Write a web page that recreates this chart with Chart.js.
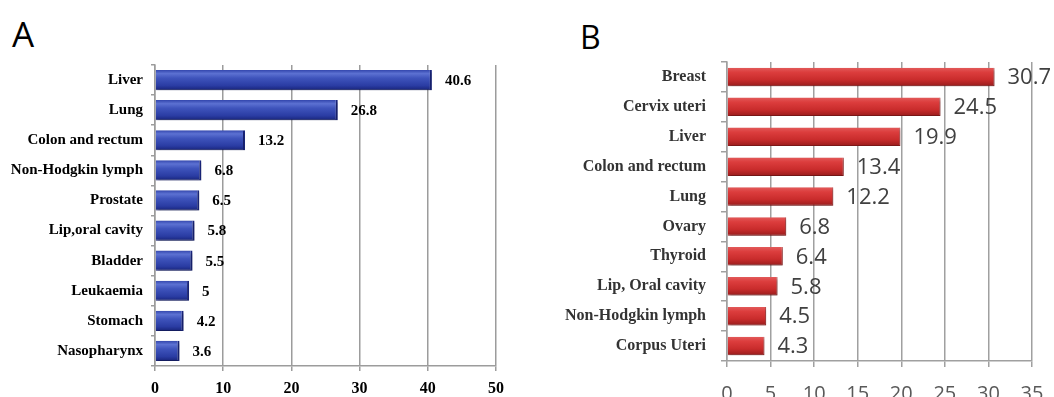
<!DOCTYPE html>
<html>
<head>
<meta charset="utf-8">
<script src="https://cdn.jsdelivr.net/npm/chart.js@4/dist/chart.umd.min.js"></script>
<style>
  html, body { margin: 0; padding: 0; background: #fff; width: 1054px; height: 397px; overflow: hidden; }
  .panel { position: absolute; top: 0; }
  .letter { position: absolute; font-family: "Open Sans", sans-serif; line-height: 1; color: #000; }
</style>
</head>
<body>
<div class="letter" style="left:12px; top:16px; font-size:35px;">A</div>
<div class="letter" style="left:580px; top:21px; font-size:32px;">B</div>
<div class="panel" style="left:0;"><canvas id="chartA" width="530" height="397"></canvas></div>
<div class="panel" style="left:560px;"><canvas id="chartB" width="494" height="420"></canvas></div>
<script>
// Panel A: men
const sitesA = ['Liver', 'Lung', 'Colon and rectum', 'Non-Hodgkin lymph', 'Prostate',
                'Lip,oral cavity', 'Bladder', 'Leukaemia', 'Stomach', 'Nasopharynx'];
const valuesA = [40.6, 26.8, 13.2, 6.8, 6.5, 5.8, 5.5, 5, 4.2, 3.6];
const ticksA = [0, 10, 20, 30, 40, 50];

// Panel B: women
const sitesB = ['Breast', 'Cervix uteri', 'Liver', 'Colon and rectum', 'Lung',
                'Ovary', 'Thyroid', 'Lip, Oral cavity', 'Non-Hodgkin lymph', 'Corpus Uteri'];
const valuesB = [30.7, 24.5, 19.9, 13.4, 12.2, 6.8, 6.4, 5.8, 4.5, 4.3];
const ticksB = [0, 5, 10, 15, 20, 25, 30, 35];

// Vertical bevel gradient for each horizontal bar
function bevel(stops, solid, barPct) {
  return (ctx) => {
    const chart = ctx.chart;
    const sc = chart.scales && chart.scales.y;
    if (ctx.dataIndex === undefined || !sc || !sc.height) return solid;
    const n = chart.data.labels.length;
    const c = sc.getPixelForValue(ctx.dataIndex);
    const h = (sc.height / n) * barPct;
    const g = chart.ctx.createLinearGradient(0, c - h / 2, 0, c + h / 2);
    stops.forEach(([p, col]) => g.addColorStop(p, col));
    return g;
  };
}

// Drop shadow under bars plus value text at the bar ends
function barDecor(font, color, gap) {
  return {
    id: 'barDecor',
    beforeDatasetsDraw(chart) {
      const ctx = chart.ctx;
      ctx.save();
      ctx.shadowColor = 'rgba(0,0,0,0.35)';
      ctx.shadowBlur = 3;
      ctx.shadowOffsetX = 1;
      ctx.shadowOffsetY = 2;
    },
    afterDatasetsDraw(chart) {
      const ctx = chart.ctx;
      ctx.restore();
      ctx.save();
      ctx.font = font;
      ctx.fillStyle = color;
      ctx.textAlign = 'left';
      ctx.textBaseline = 'middle';
      const ds = chart.data.datasets[0];
      chart.getDatasetMeta(0).data.forEach((el, i) => {
        ctx.fillText(String(ds.data[i]), el.x + gap, el.y + 1);
      });
      ctx.restore();
    }
  };
}

function makeChart(id, labels, values, tickVals, cfg) {
  const tickSet = tickVals;
  return new Chart(document.getElementById(id), {
    type: 'bar',
    data: {
      labels: labels,
      datasets: [{
        data: values,
        backgroundColor: bevel(cfg.stops, cfg.solid, cfg.barPct),
        borderColor: cfg.edge,
        borderWidth: cfg.edgeWidth,
        borderSkipped: 'start',
        barPercentage: cfg.barPct,
        categoryPercentage: 1
      }]
    },
    options: {
      indexAxis: 'y',
      responsive: false,
      animation: false,
      events: [],
      layout: { padding: { top: cfg.top, right: cfg.right, left: 0, bottom: 0 } },
      plugins: { legend: { display: false }, tooltip: { enabled: false } },
      scales: {
        x: {
          min: tickSet[0],
          max: tickSet[tickSet.length - 1],
          afterBuildTicks: (s) => { s.ticks = tickSet.map(v => ({ value: v })); },
          grid: { color: cfg.gridColor, lineWidth: 1.5, tickLength: cfg.xTickLen, drawTicks: true },
          border: { color: cfg.gridColor, width: 1.5 },
          ticks: { font: cfg.xFont, color: cfg.xColor, padding: cfg.xPad, maxRotation: 0 },
          afterFit: (s) => {
            s.height = cfg.xHeight;
            s.paddingLeft = 0;
            s.paddingRight = 0;
          }
        },
        y: {
          offset: true,
          grid: { offset: true, drawOnChartArea: false, drawTicks: true, tickLength: cfg.yTickLen,
                  color: cfg.gridColor, lineWidth: 1.5 },
          border: { color: cfg.gridColor, width: 1.5 },
          ticks: { font: cfg.yFont, color: cfg.yColor, padding: cfg.yPad, autoSkip: false },
          afterFit: (s) => { s.width = cfg.yWidth; }
        }
      }
    },
    plugins: [barDecor(cfg.valueFont, cfg.valueColor, cfg.gap)]
  });
}

makeChart('chartA', sitesA, valuesA, ticksA, {
  stops: [[0, '#3346ad'], [0.18, '#5c71d2'], [0.4, '#3f54bc'], [0.78, '#2a3ca3'], [1, '#18247a']],
  solid: '#3344aa',
  edge: '#1a2680',
  edgeWidth: { top: 0, right: 2, bottom: 1, left: 0 },
  barPct: 0.67,
  top: 65, right: 34,
  gridColor: '#9c9c9c',
  xTickLen: 5, xHeight: 31, xPad: 8,
  xFont: { family: '"Liberation Serif", serif', weight: 'bold', size: 16 },
  xColor: '#000',
  yTickLen: 4, yWidth: 155, yPad: 8,
  yFont: { family: '"Liberation Serif", serif', weight: 'bold', size: 15 },
  yColor: '#000',
  valueFont: 'bold 15px "Liberation Serif", serif',
  valueColor: '#000',
  gap: 13
});

makeChart('chartB', sitesB, valuesB, ticksB, {
  stops: [[0, '#e25a5a'], [0.25, '#dc3d3d'], [0.65, '#c92c2c'], [1, '#981c1c']],
  solid: '#d03333',
  edge: '#a01e1e',
  edgeWidth: { top: 0, right: 1, bottom: 1, left: 0 },
  barPct: 0.62,
  top: 62, right: 22,
  gridColor: '#a0a0a0',
  xTickLen: 6, xHeight: 59, xPad: 15,
  xFont: { family: '"Open Sans", sans-serif', size: 20 },
  xColor: '#595959',
  yTickLen: 6, yWidth: 167, yPad: 15,
  yFont: { family: '"Liberation Serif", serif', weight: 'bold', size: 16 },
  yColor: '#333',
  valueFont: '22px "Open Sans", sans-serif',
  valueColor: '#404040',
  gap: 13
});
</script>
</body>
</html>
